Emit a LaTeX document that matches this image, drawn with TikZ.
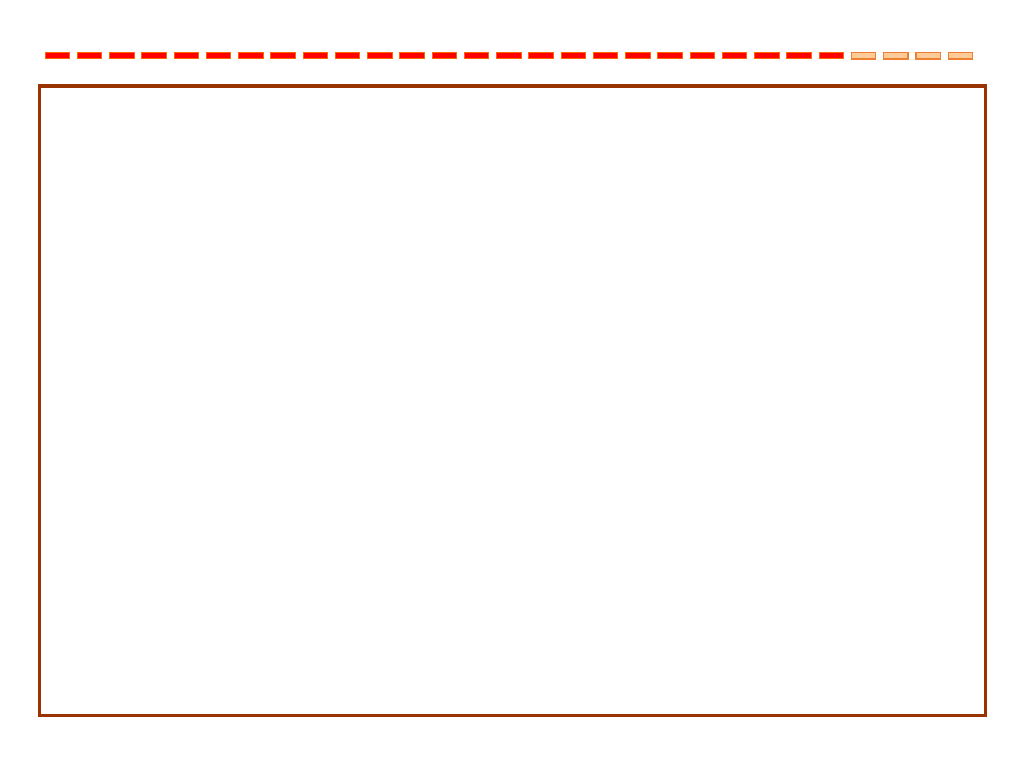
\documentclass[tikz,border=0pt]{standalone}
\begin{document}
\begin{tikzpicture}[x=1pt,y=-1pt,
  done/.style={rectangle,inner sep=0pt,outer sep=0pt,fill=red,draw={rgb,255:red,255;green,102;blue,0},line width=0.8pt},
  todo/.style={rectangle,inner sep=0pt,outer sep=0pt,fill={rgb,255:red,255;green,204;blue,153},draw={rgb,255:red,240;green,128;blue,48},line width=1.2pt},
  frame/.style={rectangle,inner sep=0pt,outer sep=0pt,draw={rgb,255:red,153;green,51;blue,0},line width=3.6pt}]
\useasboundingbox (0,0) rectangle (1024,768);
\foreach \i in {0,...,24}{
  \node[done,minimum width=24.5pt,minimum height=6.8pt,anchor=north west] (d\i) at ({45.1+\i*32.25},52.1) {};
}
\foreach \i in {25,...,28}{
  \node[todo,minimum width=24.2pt,minimum height=6.6pt,anchor=north west] (t\i) at ({45.3+\i*32.25},52.3) {};
}
\node[frame,minimum width=946pt,minimum height=629.5pt,anchor=north west] (box) at (39.5,86) {};
\end{tikzpicture}
\end{document}
